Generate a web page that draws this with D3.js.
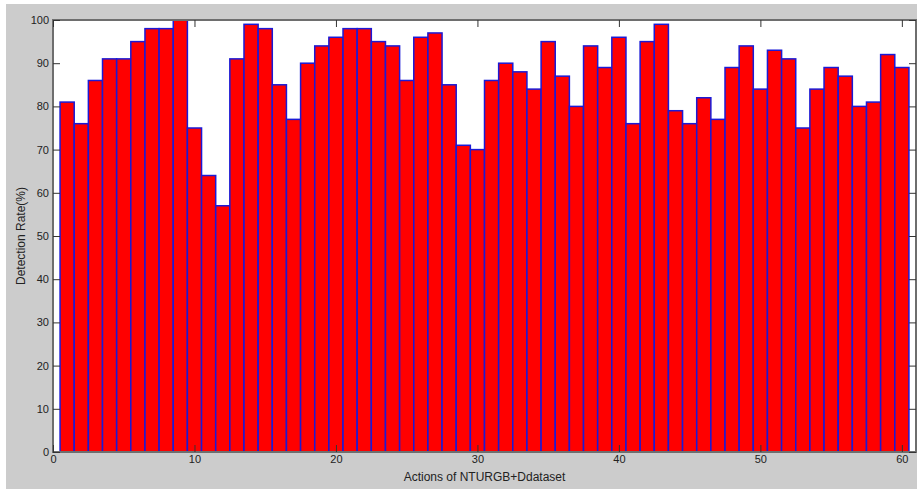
<!DOCTYPE html>
<html>
<head>
<meta charset="utf-8">
<script src="https://cdn.jsdelivr.net/npm/d3@7"></script>
<style>
  html, body { margin: 0; padding: 0; background: #fff; }
  svg { display: block; font-family: "Liberation Sans", Arial, sans-serif; }
</style>
</head>
<body>
<div id="chart"></div>
<script>
const width = 917;
const height = 490;
const margin = { top: 20, right: 1, bottom: 38, left: 53 };

// detection rate per action (1..60)
const actions = d3.range(1, 61);
const rates = [
  81, 76, 86, 91, 91, 95, 98, 98, 100, 75,
  64, 57, 91, 99, 98, 85, 77, 90, 94, 96,
  98, 98, 95, 94, 86, 96, 97, 85, 71, 70,
  86, 90, 88, 84, 95, 87, 80, 94, 89, 96,
  76, 95, 99, 79, 76, 82, 77, 89, 94, 84,
  93, 91, 75, 84, 89, 87, 80, 81, 92, 89
];
const xTicks = [0, 10, 20, 30, 40, 50, 60];
const yTicks = [0, 10, 20, 30, 40, 50, 60, 70, 80, 90, 100];

const usableArea = {
  top: margin.top,
  right: width - margin.right,
  bottom: height - margin.bottom,
  left: margin.left,
};

const svg = d3.select('#chart')
  .append('svg')
  .attr('width', width)
  .attr('height', height);

// figure background
svg.append('rect')
  .attr('x', 6).attr('y', 4)
  .attr('width', width - 6).attr('height', height - 5)
  .attr('fill', '#cccccc');

const xScale = d3.scaleLinear()
  .domain([0, 61])
  .range([usableArea.left, usableArea.right]);

const yScale = d3.scaleLinear()
  .domain([0, 100])
  .range([usableArea.bottom, usableArea.top]);

// axes area
svg.append('rect')
  .attr('x', usableArea.left)
  .attr('y', usableArea.top)
  .attr('width', usableArea.right - usableArea.left)
  .attr('height', usableArea.bottom - usableArea.top)
  .attr('fill', '#ffffff');

// bars
svg.append('g')
  .attr('class', 'bars')
  .selectAll('rect')
  .data(actions)
  .join('rect')
  .attr('x', (d) => xScale(d - 0.5))
  .attr('y', (d, i) => yScale(rates[i]))
  .attr('width', xScale(1) - xScale(0))
  .attr('height', (d, i) => yScale(0) - yScale(rates[i]))
  .attr('fill', '#ff0000')
  .attr('stroke', '#1a1ad6')
  .attr('stroke-width', 1.5);

const tickLen = 7;
const axisColor = '#6e6e6e';

// box
svg.append('rect')
  .attr('x', usableArea.left)
  .attr('y', usableArea.top)
  .attr('width', usableArea.right - usableArea.left)
  .attr('height', usableArea.bottom - usableArea.top)
  .attr('fill', 'none')
  .attr('stroke', axisColor)
  .attr('stroke-width', 2);

// x axis (ticks inside, mirrored on top)
svg.append('g')
  .attr('class', 'x-axis')
  .attr('transform', `translate(0, ${usableArea.bottom})`)
  .call(d3.axisBottom(xScale).tickValues(xTicks).tickSizeInner(-tickLen).tickSizeOuter(0).tickPadding(3))
  .call((g) => g.select('.domain').remove());

svg.append('g')
  .attr('class', 'x-axis-top')
  .attr('transform', `translate(0, ${usableArea.top})`)
  .call(d3.axisTop(xScale).tickValues(xTicks).tickSizeInner(-tickLen).tickSizeOuter(0).tickFormat(''))
  .call((g) => g.select('.domain').remove());

// y axis
svg.append('g')
  .attr('class', 'y-axis')
  .attr('transform', `translate(${usableArea.left}, 0)`)
  .call(d3.axisLeft(yScale).tickValues(yTicks).tickSizeInner(-tickLen).tickSizeOuter(0).tickPadding(4))
  .call((g) => g.select('.domain').remove());

svg.append('g')
  .attr('class', 'y-axis-right')
  .attr('transform', `translate(${usableArea.right}, 0)`)
  .call(d3.axisRight(yScale).tickValues(yTicks).tickSizeInner(-tickLen).tickSizeOuter(0).tickFormat(''))
  .call((g) => g.select('.domain').remove());

svg.selectAll('.tick line').attr('stroke', '#333').attr('stroke-width', 1);
svg.selectAll('.tick text')
  .attr('fill', '#222')
  .style('font-size', '11px')
  .style('font-family', '"Liberation Sans", Arial, sans-serif');

// axis labels
svg.append('text')
  .attr('x', (usableArea.left + usableArea.right) / 2)
  .attr('y', 481)
  .attr('text-anchor', 'middle')
  .attr('fill', '#222')
  .style('font-size', '12px')
  .text('Actions of NTURGB+Ddataset');

svg.append('text')
  .attr('transform', `translate(25, ${(usableArea.top + usableArea.bottom) / 2}) rotate(-90)`)
  .attr('text-anchor', 'middle')
  .attr('fill', '#222')
  .style('font-size', '12px')
  .text('Detection Rate(%)');
</script>
</body>
</html>
